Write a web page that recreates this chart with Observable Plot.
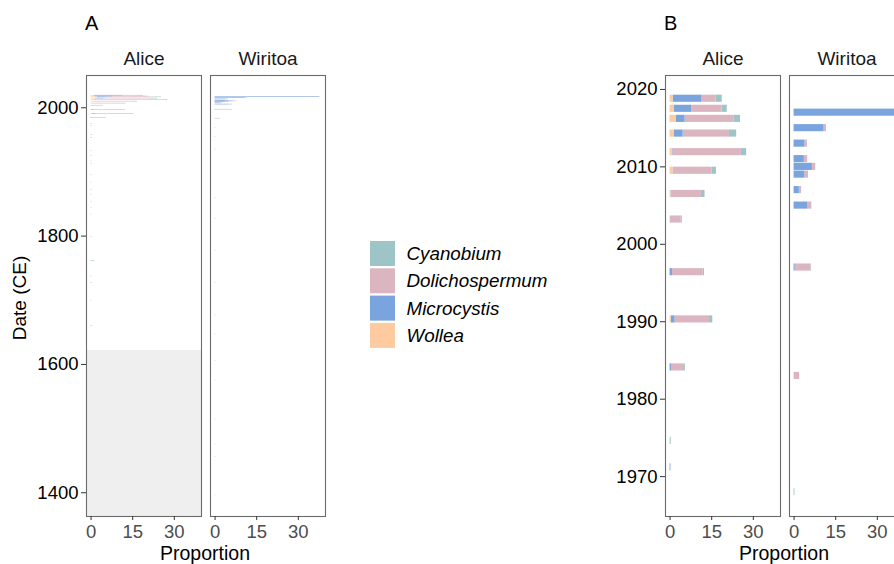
<!DOCTYPE html>
<html>
<head>
<meta charset="utf-8">
<script src="https://cdn.jsdelivr.net/npm/d3@7"></script>
<script src="https://cdn.jsdelivr.net/npm/@observablehq/plot@0.6"></script>
<style>
html, body { margin: 0; padding: 0; width: 894px; height: 564px; overflow: hidden; background: #fff; }
body { font-family: "Liberation Sans", Arial, Helvetica, sans-serif; color: #000; }
#wrap { position: relative; width: 894px; height: 564px; overflow: hidden; }
#wrap > svg { position: absolute; top: 0; }
</style>
</head>
<body>
<div id="wrap"></div>
<script>
// ---------- data ----------
const lakes = ["Alice", "Wiritoa"];
const taxa = ["Cyanobium", "Dolichospermum", "Microcystis", "Wollea"];
const taxonColors = ["#9DC4C6", "#DBB5BF", "#7AA4DE", "#FECBA1"];
const stackOrder = ["Wollea", "Microcystis", "Dolichospermum", "Cyanobium"];

const aliceYears = [2018.8, 2017.5, 2016.2, 2014.3, 2011.9, 2009.5, 2006.5, 2003.2, 1996.4, 1990.3, 1984.1, 1974.6, 1971.2,
  1958, 1953, 1933, 1925, 1916.4, 1912.8, 1894.7, 1883.7, 1871.9, 1864.6, 1853.7, 1843.9, 1833.5, 1798.8, 1760.8, 1737, 1726.6, 1698.6, 1659.7];
const aliceCyanobium =      [2.2, 1.9, 2.4, 2.6, 1.9, 1.5, 1.3, 0.4, 0.5, 1.2, 0.3, 0.3, 0,   0.1, 0,   0.4, 0.3, 0.3, 0.4, 0.4, 0.3, 0.4, 0.4, 0.4, 0.3, 0.3, 0.4, 1.2, 0.4, 0.5, 0.3, 0.6];
const aliceDolichospermum = [5.1, 10.9, 17.6, 16.7, 24.7, 14.0, 10.9, 3.9, 11.0, 12.4, 4.7, 0.1, 0, 0, 0.1, 0, 0, 0, 0, 0, 0, 0, 0, 0, 0, 0, 0, 0, 0, 0, 0, 0];
const aliceMicrocystis =    [10.4, 6.3, 3.1, 3.1, 0.2, 0.1, 0.1, 0, 0.9, 1.4, 0.5, 0, 0.3, 0.4, 0.4, 0, 0.1, 0, 0, 0, 0, 0, 0, 0, 0, 0, 0, 0.2, 0, 0, 0, 0];
const aliceWollea =         [1.1, 1.5, 2.3, 1.6, 0.8, 1.1, 0.3, 0.1, 0, 0.4, 0, 0, 0, 0, 0, 0, 0, 0, 0, 0, 0, 0, 0, 0, 0, 0, 0, 0, 0, 0, 0, 0];

const wiritoaYears = [2017, 2015, 2013, 2011, 2010, 2009, 2007, 2005, 1997, 1983, 1968, 1954, 1935,
  1859.4, 1826.8, 1777.4, 1727.2, 1676.3, 1646.7, 1605, 1575, 1514, 1475, 1455.5, 1396];
const wiritoaCyanobium =      [0, 0, 0, 0, 0, 0, 0, 0, 0.2, 0, 0.3, 0.2, 0.2, 0.3, 0.3, 0.3, 0.3, 0.3, 0.3, 0.3, 0.3, 0.3, 0.3, 0.3, 0.3];
const wiritoaDolichospermum = [0.3, 0.9, 0.9, 1.2, 1.2, 1.3, 0.8, 1.4, 5.7, 2.0, 0, 0, 0.1, 0, 0, 0, 0, 0, 0, 0, 0, 0, 0, 0, 0];
const wiritoaMicrocystis =    [37.6, 10.8, 3.9, 3.7, 6.6, 3.9, 1.9, 5.0, 0.4, 0, 0, 0.1, 0, 0, 0, 0, 0, 0, 0, 0, 0, 0, 0, 0, 0];
const wiritoaWollea =         [0, 0, 0, 0, 0, 0, 0, 0, 0, 0, 0, 0, 0, 0, 0, 0, 0, 0, 0, 0, 0, 0, 0, 0, 0];

const proportionTicks = [0, 15, 30];
const proportionDomain = [-1.65, 39.8];
const panelAYearTicks = [1400, 1600, 1800, 2000];
const panelAYearDomain = [1363, 2050.3];
const panelBYearTicks = [1970, 1980, 1990, 2000, 2010, 2020];
const panelBYearDomain = [1964.85, 2021.8];
const undatedSpans = [{lake: "Alice", from: 1363, to: 1621.8}];
const barHalfHeight = 0.46; // years

// ---------- build long table ----------
function longRows(lake, years, series) {
  const out = [];
  taxa.forEach((t) => series[t].forEach((v, i) => {
    if (v > 0) out.push({lake, year: years[i], taxon: t, value: v});
  }));
  return out;
}
const rows = [
  ...longRows("Alice", aliceYears, {Cyanobium: aliceCyanobium, Dolichospermum: aliceDolichospermum, Microcystis: aliceMicrocystis, Wollea: aliceWollea}),
  ...longRows("Wiritoa", wiritoaYears, {Cyanobium: wiritoaCyanobium, Dolichospermum: wiritoaDolichospermum, Microcystis: wiritoaMicrocystis, Wollea: wiritoaWollea})
];

const FS = 18.5;
function panel(data, yDomain, yTicks, spans) {
  const inDomain = data.filter((d) => d.year >= yDomain[0] && d.year <= yDomain[1]);
  const spansIn = spans.filter((s) => s.to > yDomain[0]).map((s) => ({...s, from: Math.max(s.from, yDomain[0])}));
  return Plot.plot({
    width: 330, height: 564,
    marginLeft: 85.7, marginRight: 5.3, marginTop: 75, marginBottom: 48,
    style: {fontFamily: '"Liberation Sans", Arial, Helvetica, sans-serif', background: "transparent", overflow: "visible"},
    fx: {domain: lakes, paddingInner: 0.0726, paddingOuter: 0},
    x: {domain: proportionDomain},
    y: {domain: yDomain},
    color: {domain: taxa, range: taxonColors},
    marks: [
      Plot.rect(spansIn, {fx: "lake", y1: "from", y2: "to", fill: "#efefef"}),
      Plot.rect(inDomain, Plot.stackX({
        fx: "lake",
        y1: (d) => d.year - barHalfHeight,
        y2: (d) => d.year + barHalfHeight,
        x: "value",
        fill: "taxon",
        order: stackOrder
      })),
      Plot.frame({stroke: "#6b6b6b", strokeWidth: 1.1}),
      Plot.axisY({ticks: yTicks, tickFormat: (d) => String(d), tickSize: 5, tickPadding: 3, fontSize: FS, label: null, stroke: "#333", fill: "#000"}),
      Plot.axisX({ticks: proportionTicks, tickSize: 4, tickPadding: 4, fontSize: FS, label: null, stroke: "#333", fill: "#4d4d4d"}),
      Plot.axisFx({anchor: "top", tickSize: 0, tickPadding: 11, fontSize: 19, label: null, fill: "#1a1a1a"})
    ]
  });
}

const wrap = document.getElementById("wrap");
const pa = panel(rows, panelAYearDomain, panelAYearTicks, undatedSpans);
pa.style.left = "0px";
wrap.appendChild(pa);
const pb = panel(rows, panelBYearDomain, panelBYearTicks, undatedSpans);
pb.style.left = "578.6px";
wrap.appendChild(pb);

// ---------- overlay: tags, shared labels, legend ----------
const ov = d3.select(wrap).append("svg")
  .attr("width", 894).attr("height", 564)
  .style("left", "0px")
  .style("font-family", '"Liberation Sans", Arial, Helvetica, sans-serif');

ov.append("text").attr("x", 85).attr("y", 30).attr("font-size", 20).text("A");
ov.append("text").attr("x", 664).attr("y", 30).attr("font-size", 20).text("B");
ov.append("text").attr("transform", "translate(25.5,298) rotate(-90)")
  .attr("text-anchor", "middle").attr("font-size", 19).text("Date (CE)");
ov.append("text").attr("x", 205).attr("y", 560).attr("text-anchor", "middle").attr("font-size", 19.5).text("Proportion");
ov.append("text").attr("x", 784).attr("y", 560).attr("text-anchor", "middle").attr("font-size", 19.5).text("Proportion");

const lg = ov.append("g");
taxa.forEach((t, i) => {
  const y0 = 241 + i * 27.3;
  lg.append("rect").attr("x", 370).attr("y", y0).attr("width", 25).attr("height", 25).attr("fill", taxonColors[i]);
  lg.append("text").attr("x", 406.5).attr("y", y0 + 12.5 + 6.5)
    .attr("font-size", 18.8).attr("font-style", "italic").text(t);
});
</script>
</body>
</html>
